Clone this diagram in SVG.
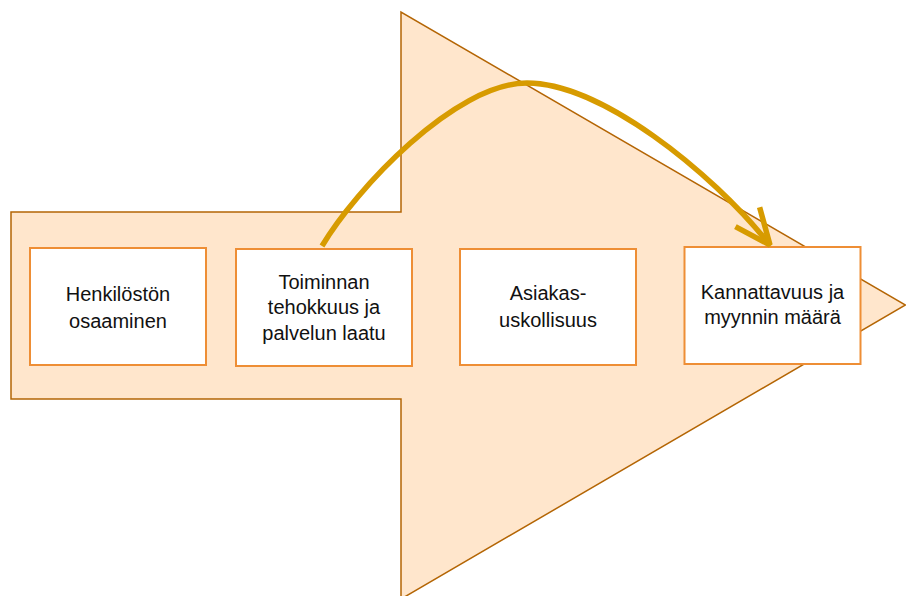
<svg xmlns="http://www.w3.org/2000/svg" width="906" height="596" viewBox="0 0 906 596">
  <defs>
    <style>
      .big { fill: #ffe6cc; stroke: #b46504; stroke-width: 1.5; }
      .box { fill: #ffffff; stroke: #ee8e35; stroke-width: 2; }
      .lbl { font-family: "Liberation Sans", Arial, sans-serif; font-size: 20px; fill: #111111; text-anchor: middle; }
      .conn { fill: none; stroke: #d79b00; stroke-width: 5.5; }
    </style>
    <marker id="open" viewBox="-42 -20 48 40" refX="0" refY="0" markerWidth="48" markerHeight="40" markerUnits="userSpaceOnUse" orient="auto" overflow="visible">
      <path d="M-36,-15.5 L0,0 L-36,15.5" fill="none" stroke="#d79b00" stroke-width="5.5" stroke-linejoin="miter" stroke-miterlimit="2"/>
    </marker>
  </defs>
  <rect width="906" height="596" fill="#ffffff"/>
  <g id="big-arrow">
    <polygon class="big" points="11,212 401,212 401,12 905.5,305 401,599 401,399 11,399"/>
  </g>
  <g id="node-henkiloston">
    <rect class="box" x="30" y="248" width="176" height="117"/>
    <text class="lbl" x="118" y="301">Henkilöstön</text>
    <text class="lbl" x="118" y="327.5">osaaminen</text>
  </g>
  <g id="node-toiminnan">
    <rect class="box" x="236" y="249" width="176" height="117"/>
    <text class="lbl" x="324" y="289">Toiminnan</text>
    <text class="lbl" x="324" y="314">tehokkuus ja</text>
    <text class="lbl" x="324" y="340">palvelun laatu</text>
  </g>
  <g id="node-asiakas">
    <rect class="box" x="460" y="249" width="176" height="116"/>
    <text class="lbl" x="548" y="300">Asiakas-</text>
    <text class="lbl" x="548" y="326.5">uskollisuus</text>
  </g>
  <g id="node-kannattavuus">
    <rect class="box" x="684.5" y="247" width="176" height="117"/>
    <text class="lbl" x="772.5" y="299">Kannattavuus ja</text>
    <text class="lbl" x="772.5" y="324">myynnin määrä</text>
  </g>
  <g id="connectors">
    <path class="conn" d="M322,246 C355,190 455,83 527,83 C600,83 710,170 770,245" marker-end="url(#open)"/>
  </g>
</svg>
